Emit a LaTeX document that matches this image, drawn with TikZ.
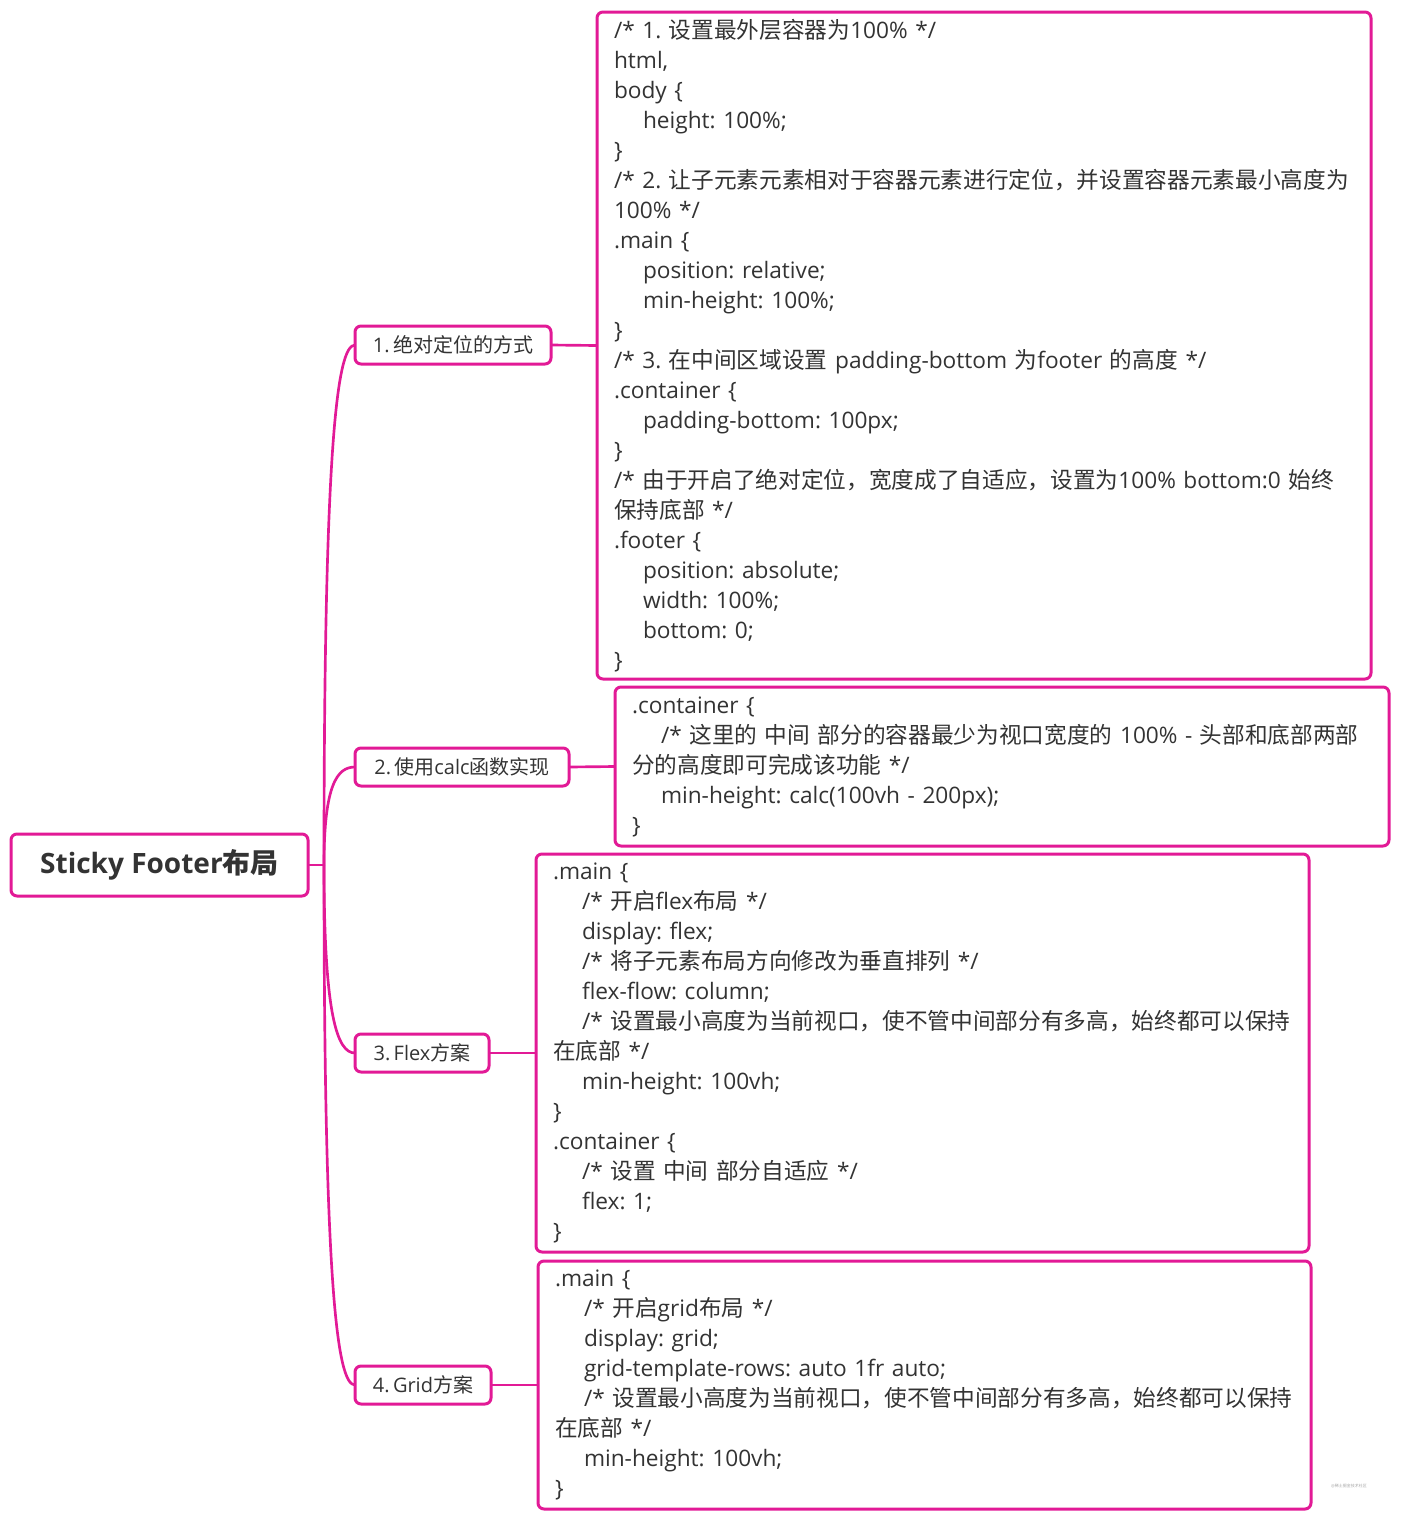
\documentclass[tikz,border=0pt]{standalone}
\usepackage{fontspec}
\setmainfont{Open Sans}
\newfontfamily\cjkfont{Noto Sans CJK SC}
\frenchspacing

% CJK characters are switched to the CJK family
\XeTeXinterchartokenstate=1
\newXeTeXintercharclass\mcCJK
\newcount\mcChar
\mcChar="3000
\loop\XeTeXcharclass\mcChar=\mcCJK \ifnum\mcChar<"303F \advance\mcChar by 1 \repeat
\mcChar="4E00
\loop\XeTeXcharclass\mcChar=\mcCJK \ifnum\mcChar<"9FFF \advance\mcChar by 1 \repeat
\mcChar="FF00
\loop\XeTeXcharclass\mcChar=\mcCJK \ifnum\mcChar<"FFEF \advance\mcChar by 1 \repeat
\XeTeXinterchartoks 0 \mcCJK = {\begingroup\cjkfont}
\XeTeXinterchartoks 4095 \mcCJK = {\begingroup\cjkfont}
\XeTeXinterchartoks \mcCJK 0 = {\endgroup}
\XeTeXinterchartoks \mcCJK 4095 = {\endgroup}

\definecolor{mcPink}{RGB}{226,26,150}
\definecolor{mcText}{RGB}{51,51,51}
\newcommand{\mcIndent}{\hspace*{21.75pt}}

\tikzset{
	mindline/.style={draw=mcPink, line width=2pt},
	mcbox/.style={draw=mcPink, line width=2.25pt, rounded corners=4.5pt, fill=white, text=mcText, outer sep=0pt},
	rootbox/.style={mcbox, font=\fontsize{21pt}{25pt}\selectfont\bfseries, minimum width=222.75pt, minimum height=46.5pt, inner sep=0pt},
	topicbox/.style={mcbox, font=\fontsize{15pt}{18pt}\selectfont, minimum height=28.5pt, inner sep=0pt, anchor=west},
	codebox/.style={mcbox, font=\fontsize{17pt}{22.5pt}\selectfont, align=left, inner xsep=12.75pt, inner ysep=0pt, anchor=north west},
	markbox/.style={text=black!35, font=\fontsize{3pt}{4pt}\selectfont, inner sep=0pt}}
\tikzset{every picture/.style={line width=0.75pt}}

\begin{document}
\begin{tikzpicture}[x=0.75pt,y=0.75pt,yscale=-1,xscale=1]
	\useasboundingbox (0,0) rectangle (1400,1521);

	% Text Node
	\node [rootbox] (root) at (159.5,865) {Sticky Footer布局};
	\coordinate (hub) at (324,865);

	% Text Node
	\node [topicbox, minimum width=147pt] (absolute) at (355,345) {1.\,绝对定位的方式};
	% Text Node
	\node [topicbox, minimum width=160.5pt] (calc) at (355,767) {2.\,使用calc函数实现};
	% Text Node
	\node [topicbox, minimum width=100.5pt] (flex) at (355,1053) {3.\,Flex方案};
	% Text Node
	\node [topicbox, minimum width=102pt] (grid) at (355,1385) {4.\,Grid方案};

	%Shape: Code box [absolute]
	\node [codebox, text width=555pt, minimum height=500.25pt] (absolutecode) at (597,12) {/* 1. 设置最外层容器为100\% */\\
html,\\
body \{\\
\mcIndent height: 100\%;\\
\}\\
/*~2.~让子元素元素相对于容器元素进行定位，并设置容器元素最小高度为\\
100\% */\\
.main \{\\
\mcIndent position: relative;\\
\mcIndent min-height: 100\%;\\
\}\\
/* 3. 在中间区域设置 padding-bottom 为footer 的高度 */\\
.container \{\\
\mcIndent padding-bottom: 100px;\\
\}\\
/*~由于开启了绝对定位，宽度成了自适应，设置为100\%~bottom:0~始终\\
保持底部 */\\
.footer \{\\
\mcIndent position: absolute;\\
\mcIndent width: 100\%;\\
\mcIndent bottom: 0;\\
\}};
	%Shape: Code box [calc]
	\node [codebox, text width=555pt, minimum height=119.25pt] (calccode) at (615,687) {.container \{\\
\mcIndent/*~这里的~中间~部分的容器最少为视口宽度的~100\%~-~头部和底部两部\\
分的高度即可完成该功能 */\\
\mcIndent min-height: calc(100vh - 200px);\\
\}};
	%Shape: Code box [flex]
	\node [codebox, text width=554.25pt, minimum height=298.5pt] (flexcode) at (536,854) {.main \{\\
\mcIndent/* 开启flex布局 */\\
\mcIndent display: flex;\\
\mcIndent/* 将子元素布局方向修改为垂直排列 */\\
\mcIndent flex-flow: column;\\
\mcIndent/*~设置最小高度为当前视口，使不管中间部分有多高，始终都可以保持\\
在底部 */\\
\mcIndent min-height: 100vh;\\
\}\\
.container \{\\
\mcIndent/* 设置 中间 部分自适应 */\\
\mcIndent flex: 1;\\
\}};
	%Shape: Code box [grid]
	\node [codebox, text width=554.25pt, minimum height=186pt] (gridcode) at (538,1261) {.main \{\\
\mcIndent/* 开启grid布局 */\\
\mcIndent display: grid;\\
\mcIndent grid-template-rows: auto 1fr auto;\\
\mcIndent/*~设置最小高度为当前视口，使不管中间部分有多高，始终都可以保持\\
在底部 */\\
\mcIndent min-height: 100vh;\\
\}};

	%Straight Lines
	\draw [mindline] (root.east) -- (hub);
	\draw [mindline] (hub) .. controls +(0,-420) and +(-18,0) .. (absolute.west);
	\draw [mindline] (hub) .. controls +(0,-80) and +(-18,0) .. (calc.west);
	\draw [mindline] (hub) .. controls +(0,150) and +(-18,0) .. (flex.west);
	\draw [mindline] (hub) .. controls +(0,420) and +(-18,0) .. (grid.west);
	\draw [mindline] (absolute.east) -- (absolutecode.west);
	\draw [mindline] (calc.east) -- (calccode.west);
	\draw [mindline] (flex.east) -- (flexcode.west);
	\draw [mindline] (grid.east) -- (gridcode.west);

	% Text Node
	\node [markbox] (mark) at (1349,1486) {@稀土掘金技术社区};

\end{tikzpicture}
\end{document}
